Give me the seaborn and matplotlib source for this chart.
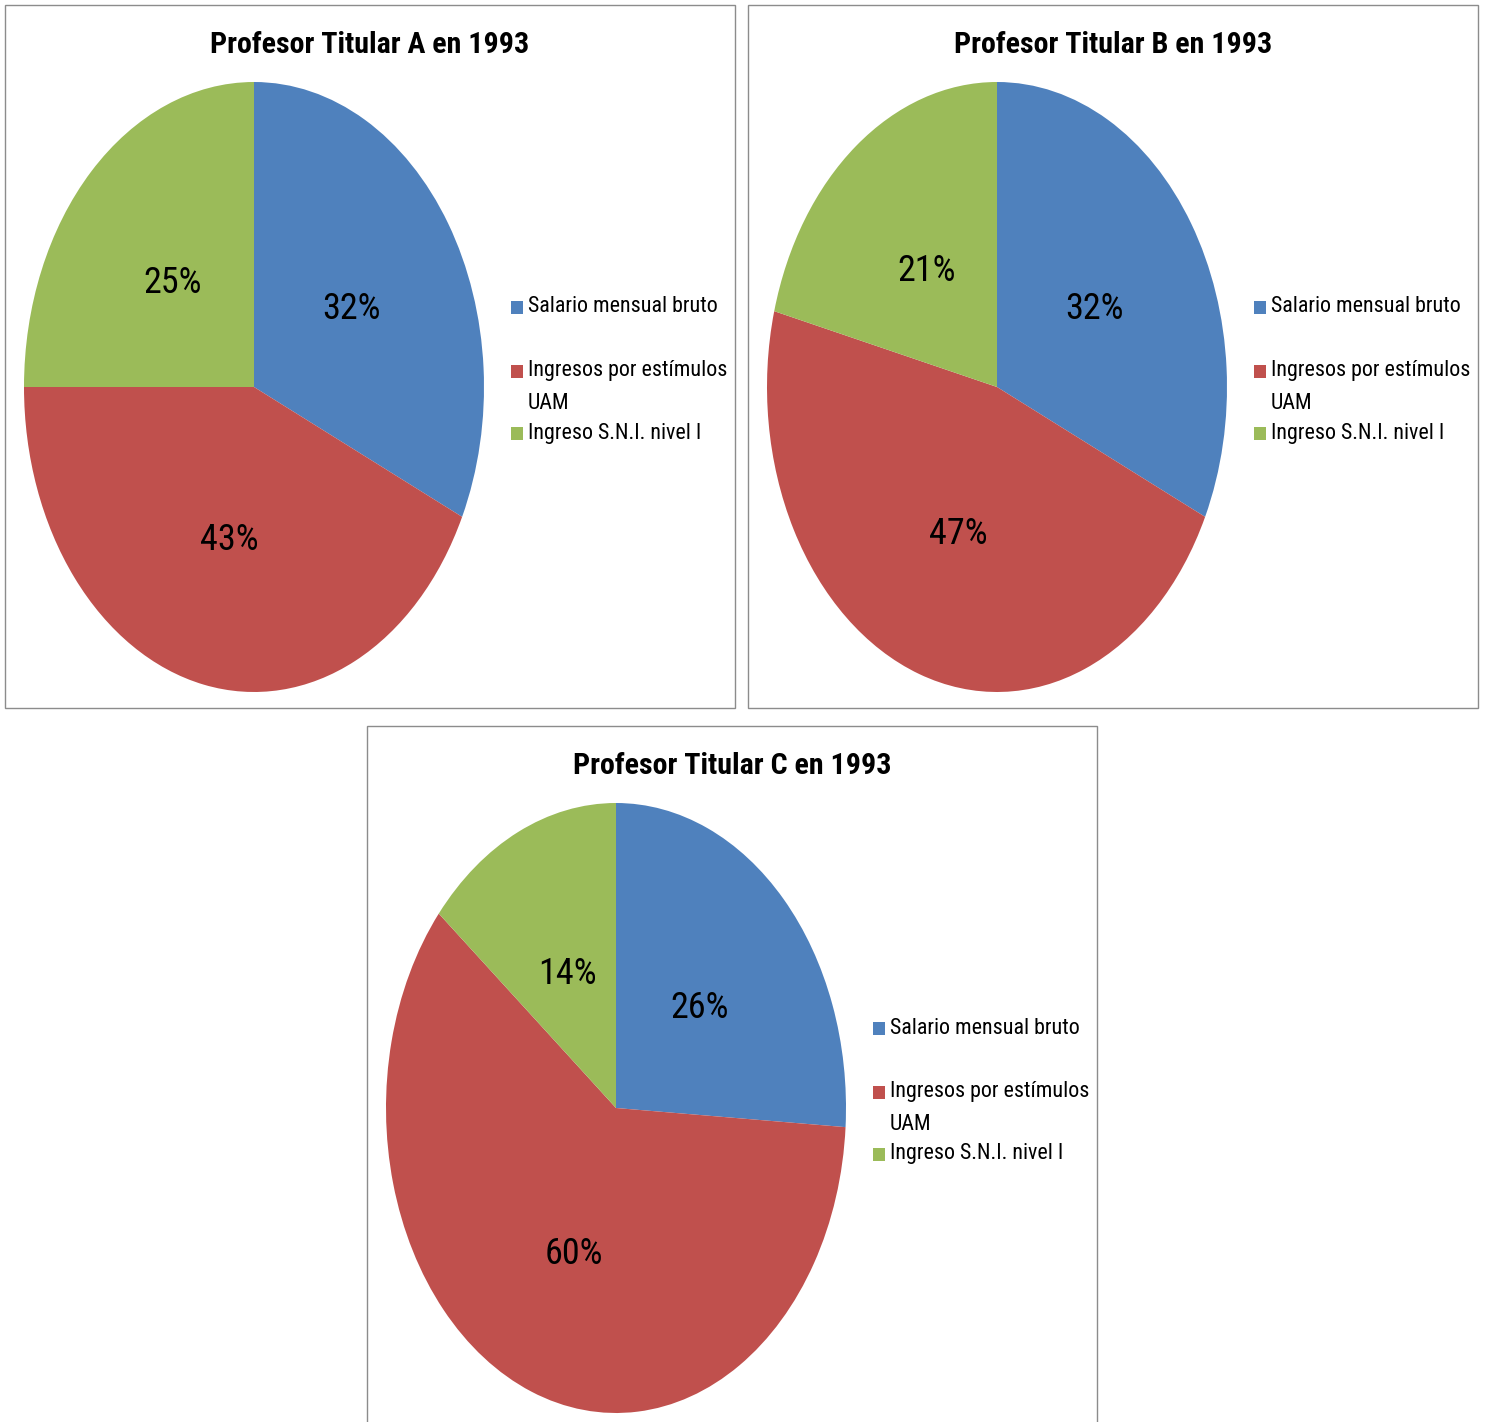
import matplotlib
matplotlib.use("Agg")
import matplotlib.pyplot as plt
from matplotlib import font_manager
from matplotlib.font_manager import FontProperties
from matplotlib.patches import Rectangle
import matplotlib.transforms as mtransforms
import seaborn as sns

sns.set_theme(style="white")
plt.rcParams["font.family"] = ["DejaVu Sans"]

# ---- data ----
categories = ["Salario mensual bruto", "Ingresos por estímulos\nUAM", "Ingreso S.N.I. nivel I"]
titles = ["Profesor Titular A en 1993", "Profesor Titular B en 1993", "Profesor Titular C en 1993"]
values_A = [32, 43, 25]
values_B = [32, 47, 21]
values_C = [26, 60, 14]
colors = sns.color_palette(["#4F81BD", "#C0504D", "#9BBB59"])


def find_font(bold):
    cands = []
    for f in font_manager.fontManager.ttflist:
        fn = f.fname.lower()
        if not ("condensed" in fn or "narrow" in fn):
            continue
        if "italic" in fn or "oblique" in fn or "semi" in fn or "extra" in fn or "ultra" in fn:
            continue
        if "light" in fn or "thin" in fn or "medium" in fn or "black" in fn:
            continue
        isbold = "bold" in fn
        if isbold != bold:
            continue
        pref = 10
        for i, key in enumerate(["liberationsansnarrow", "roboto", "opensans", "dejavu", "noto", "lato"]):
            if key in fn.replace("-", "").replace("_", ""):
                pref = i
                break
        cands.append((pref, f.fname))
    if cands:
        cands.sort()
        return FontProperties(fname=cands[0][1])
    return FontProperties(family="DejaVu Sans", weight="bold" if bold else "normal")


FP_REG = find_font(False)
FP_BOLD = find_font(True)

W, H = 1486, 1422
fig = plt.figure(figsize=(W / 100, H / 100), dpi=100)
fig.patch.set_facecolor("white")


def fx(x):
    return x / W


def fy(y):
    return 1 - y / H


panels = [(5, 5, 735, 708), (748, 5, 1478, 708), (367, 726, 1097, 1430)]
all_values = [values_A, values_B, values_C]

titles_t, pct_t, leg_t = [], [], []
shift_down = mtransforms.ScaledTranslation(0, -4 / 100, fig.dpi_scale_trans)

for (l, t, r, b), vals, title in zip(panels, all_values, titles):
    fig.patches.append(Rectangle((fx(l), fy(b)), fx(r - l), (b - t) / H,
                                 transform=fig.transFigure, fill=False,
                                 edgecolor="#8c8c8c", linewidth=1.0))
    tt = fig.text(fx(l + 365), fy(t + 40), title, ha="center", va="center",
                  fontproperties=FP_BOLD, fontsize=22, color="black")
    titles_t.append(tt)
    pl, pt, pr, pb = l + 19, t + 77, l + 479, t + 687
    ax = fig.add_axes([fx(pl), fy(pb), fx(pr - pl), (pb - pt) / H])
    wedges, texts, autotexts = ax.pie(
        vals, colors=colors, startangle=90, counterclock=False,
        autopct=lambda p: f"{p:.0f}%", pctdistance=0.5,
        textprops=dict(color="black"), wedgeprops=dict(linewidth=0))
    for a in autotexts:
        a.set_fontproperties(FP_REG)
        a.set_fontsize(22)
        a.set_transform(a.get_transform() + shift_down)
        pct_t.append(a)
    ax.set_aspect("auto")
    ax.set_xlim(-1, 1)
    ax.set_ylim(-1, 1)
    ax.axis("off")
    lx = l + 506
    ys = [t + 302, t + 366, t + 428]
    for (yy, lab, c) in zip(ys, categories, colors):
        fig.patches.append(Rectangle((fx(lx), fy(yy + 7)), fx(12), 13 / H,
                                     transform=fig.transFigure, facecolor=c,
                                     edgecolor="none"))
        if "\n" in lab:
            lt = fig.text(fx(lx + 17), fy(yy - 11), lab, ha="left", va="top",
                          fontproperties=FP_REG, fontsize=16, color="black",
                          linespacing=1.78)
        else:
            lt = fig.text(fx(lx + 17), fy(yy), lab, ha="left", va="center",
                          fontproperties=FP_REG, fontsize=16, color="black")
        leg_t.append(lt)

# fit font sizes to the reference text widths
renderer = fig.canvas.get_renderer()


def fit(texts, ref_text_obj, target_px):
    w = ref_text_obj.get_window_extent(renderer).width
    size = ref_text_obj.get_fontsize() * target_px / w
    for tx in texts:
        tx.set_fontsize(size)


fit(titles_t, titles_t[0], 320)
fit(pct_t, pct_t[0], 59)
fit(leg_t, leg_t[0], 190)

fig.savefig("out.png", dpi=100)
